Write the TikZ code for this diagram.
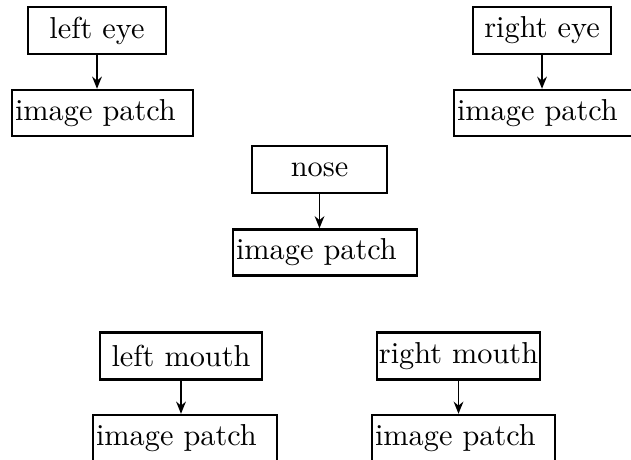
\documentclass[tikz,border=0pt]{standalone}
\usetikzlibrary{arrows.meta}
\begin{document}
\begin{tikzpicture}[x=0.33pt, y=-0.33pt,
  part/.style={draw, line width=0.8pt, inner sep=0pt, align=center,
    minimum height=47*0.33pt},
  patch/.style={draw, line width=0.8pt, inner xsep=1pt, inner ysep=0pt,
    align=left, minimum height=46*0.33pt},
  link/.style={line width=0.6pt, -{Stealth[length=4pt, width=3.2pt]}}]
  \useasboundingbox (0,0) rectangle (631,460);
  \clip (0,0) rectangle (631,460);

  % facial parts
  \node[part, minimum width=138*0.33pt] (leye)   at (97,30.5)   {left eye};
  \node[part, minimum width=138*0.33pt] (reye)   at (542,30.5)  {right eye};
  \node[part, minimum width=135*0.33pt] (nose)   at (319.5,169.5) {nose};
  \node[part, minimum width=162*0.33pt] (lmouth) at (181,356)   {left mouth};
  \node[part, minimum width=163*0.33pt] (rmouth) at (458.5,356) {right mouth};

  % image patches cut around each part
  \node[patch, text width=181*0.33pt-2pt] (pleye)   at (102.5,113) {image patch};
  \node[patch, text width=183*0.33pt-2pt] (preye)   at (545.5,113) {image patch};
  \node[patch, text width=184*0.33pt-2pt] (pnose)   at (325,252.5) {image patch};
  \node[patch, text width=184*0.33pt-2pt] (plmouth) at (185,438)   {image patch};
  \node[patch, text width=183*0.33pt-2pt] (prmouth) at (463.5,438) {image patch};

  % part -> patch
  \draw[link] (leye.south)   -- (leye.south   |- pleye.north);
  \draw[link] (reye.south)   -- (reye.south   |- preye.north);
  \draw[link] (nose.south)   -- (nose.south   |- pnose.north);
  \draw[link] (lmouth.south) -- (lmouth.south |- plmouth.north);
  \draw[link] (rmouth.south) -- (rmouth.south |- prmouth.north);
\end{tikzpicture}
\end{document}
